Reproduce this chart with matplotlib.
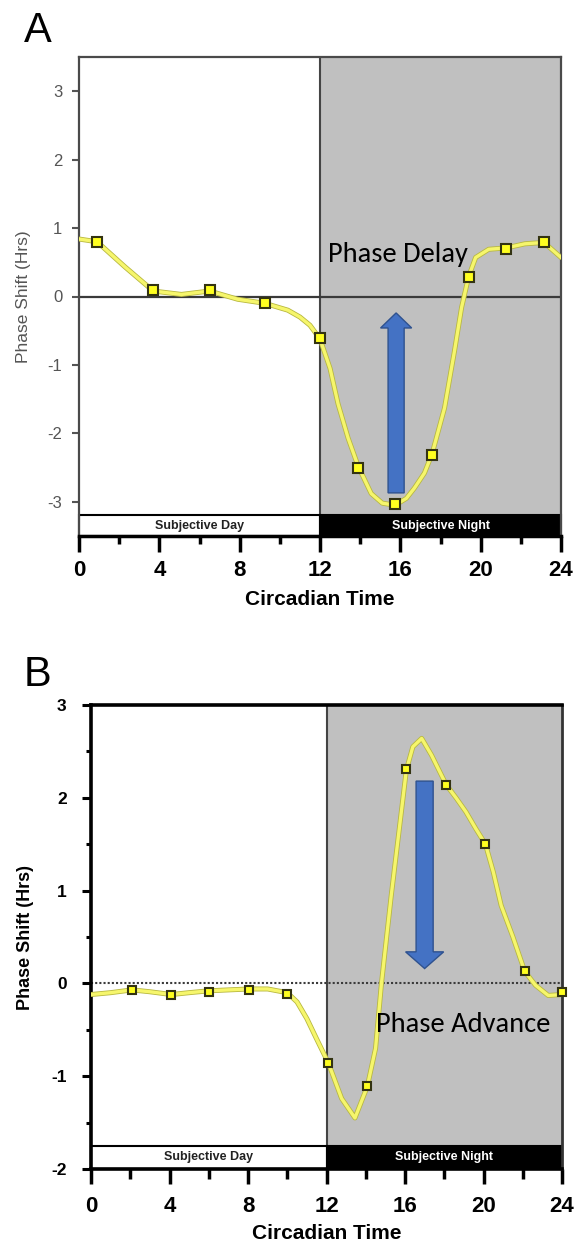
import matplotlib
matplotlib.use("Agg")
import matplotlib.pyplot as plt
from matplotlib import font_manager
from matplotlib.patches import FancyArrow
from matplotlib.ticker import MultipleLocator

plt.rcParams["axes.unicode_minus"] = False

# ---- panel A: phase delay PRC ----
a_pts_x = [0.9, 3.7, 6.5, 9.26, 12.0, 13.9, 15.74, 17.58, 19.4, 21.27, 23.15]
a_pts_y = [0.8, 0.1, 0.1, -0.1, -0.6, -2.51, -3.03, -2.31, 0.29, 0.7, 0.79]
a_fit_x = [0, 0.9, 2.3, 3.7, 5.1, 6.5, 7.9, 9.26, 10.4, 11.0, 11.5, 12.0, 12.5,
           12.9, 13.4, 13.9, 14.55, 15.1, 15.74, 16.3, 16.7, 17.2, 17.58, 18.2,
           18.7, 19.05, 19.4, 19.75, 20.4, 21.27, 22.2, 23.15, 24]
a_fit_y = [0.84, 0.8, 0.43, 0.08, 0.03, 0.08, -0.04, -0.1, -0.2, -0.3, -0.42,
           -0.62, -1.05, -1.57, -2.07, -2.48, -2.88, -3.02, -3.05, -2.95, -2.8,
           -2.58, -2.3, -1.63, -0.79, -0.16, 0.29, 0.57, 0.69, 0.71, 0.77, 0.79, 0.57]
a_arrow = (15.79, -2.87, -0.24)   # x, tail, tip

# ---- panel B: phase advance PRC ----
b_pts_x = [2.09, 4.1, 6.0, 8.07, 10.0, 12.1, 14.08, 16.07, 18.1, 20.1, 22.1, 24.0]
b_pts_y = [-0.07, -0.12, -0.09, -0.07, -0.11, -0.86, -1.11, 2.31, 2.14, 1.5, 0.13, -0.09]
b_fit_x = [0, 1, 2.09, 3, 4.1, 5, 6.0, 7, 8.07, 9, 10.0, 10.5, 11, 11.5, 12.1,
           12.77, 13.45, 14.08, 14.5, 14.8, 15.3, 15.7, 16.07, 16.4, 16.85, 17.35,
           18.1, 18.6, 19.1, 19.6, 20.1, 20.5, 20.9, 21.5, 22.1, 22.65, 23.3, 24]
b_fit_y = [-0.12, -0.1, -0.07, -0.09, -0.12, -0.1, -0.08, -0.07, -0.06, -0.06,
           -0.1, -0.2, -0.38, -0.6, -0.86, -1.24, -1.45, -1.11, -0.7, 0.0, 0.95,
           1.65, 2.3, 2.55, 2.64, 2.46, 2.14, 2.0, 1.85, 1.67, 1.5, 1.2, 0.84,
           0.5, 0.13, -0.02, -0.13, -0.12]
b_arrow = (17.0, 2.18, 0.16)

day_span = (0, 12)
night_span = (12, 24)
x_major = [0, 4, 8, 12, 16, 20, 24]


def pick(fams):
    for f in fams:
        try:
            font_manager.findfont(font_manager.FontProperties(family=f),
                                  fallback_to_default=False)
            return f
        except ValueError:
            continue
    return "DejaVu Sans"


NARROW = pick(["Liberation Sans Narrow", "Arial Narrow", "Liberation Sans"])
ARIAL = pick(["Liberation Sans", "Arial", "DejaVu Sans"])
CALIBRI = pick(["Carlito", "Open Sans", "Noto Sans"])

fig = plt.figure(figsize=(5.76, 12.44), dpi=100)
W, H = 576, 1244


def px_axes(l, r, t, b):
    return fig.add_axes([l / W, 1 - b / H, (r - l) / W, (b - t) / H])


def panel(ax, ylim, bar_top, fit_x, fit_y, pts_x, pts_y, msize, zero_style):
    ax.set_xlim(0, 24)
    ax.set_ylim(*ylim)
    # shaded subjective night
    ax.fill_between(night_span, bar_top, ylim[1], color="#c0c0c0", zorder=0, lw=0)
    # day / night bars
    ax.bar(day_span[0], bar_top - ylim[0], width=day_span[1] - day_span[0],
           bottom=ylim[0], align="edge", color="white", edgecolor="black",
           lw=1.5, zorder=2, clip_on=False)
    ax.bar(night_span[0], bar_top - ylim[0], width=night_span[1] - night_span[0],
           bottom=ylim[0], align="edge", color="black", edgecolor="black",
           lw=1.5, zorder=2, clip_on=False)
    mid = (ylim[0] + bar_top) / 2
    ax.text(6, mid, "Subjective Day", ha="center", va="center", fontsize=9,
            family=NARROW, fontweight="bold", color="#222", zorder=3)
    ax.text(18, mid, "Subjective Night", ha="center", va="center", fontsize=9,
            family=NARROW, fontweight="bold", color="white", zorder=3)
    ax.plot([12, 12], [bar_top, ylim[1]], color="#444444", lw=1.5, zorder=1)
    ax.axhline(0, color="#3a3a3a", zorder=1, **zero_style)
    ax.plot(fit_x, fit_y, color="#b8b840", lw=3.6, zorder=4, solid_capstyle="round")
    ax.plot(fit_x, fit_y, color="#f6f66c", lw=2.4, zorder=5, solid_capstyle="round")
    ax.plot(pts_x, pts_y, ls="none", marker="s", ms=msize, mfc="#ffff20",
            mec="#333311", mew=1.5, zorder=6, clip_on=False)
    ax.set_xticks(x_major)
    ax.xaxis.set_minor_locator(MultipleLocator(2))


def arrow(ax, spec, shaft_w, head_w, head_l):
    x, y0, y1 = spec
    ax.add_patch(FancyArrow(x, y0, 0, y1 - y0, width=shaft_w, head_width=head_w,
                            head_length=head_l, length_includes_head=True,
                            fc="#4472c4", ec="#2f528f", lw=1, zorder=8))


# ---------- A ----------
axA = px_axes(79, 561, 57, 536)
panel(axA, (-3.5, 3.5), -3.2, a_fit_x, a_fit_y, a_pts_x, a_pts_y, 7.0,
      dict(lw=1.6, ls="-"))
arrow(axA, a_arrow, 0.8, 1.55, 0.22)
axA.text(12.4, 0.51, "Phase Delay", family=CALIBRI, fontsize=20.5,
         va="baseline", ha="left", color="black", zorder=9)
axA.set_yticks([-3, -2, -1, 0, 1, 2, 3])
for s in ["top", "right", "left"]:
    axA.spines[s].set_color("#4a4a4a")
    axA.spines[s].set_linewidth(1.6)
axA.spines["bottom"].set_linewidth(2.5)
axA.tick_params(axis="y", length=5, width=1.5, color="#555555", pad=7,
                labelsize=12, labelcolor="#555555")
axA.tick_params(axis="x", which="major", length=11.5, width=2.5, pad=6,
                labelsize=16)
axA.tick_params(axis="x", which="minor", length=6, width=2.5)
for t in axA.get_yticklabels():
    t.set_family(ARIAL)
for t in axA.get_xticklabels():
    t.set_family(NARROW)
    t.set_fontweight("bold")
axA.set_ylabel("Phase Shift (Hrs)", family=ARIAL, fontsize=12.5, color="#555555")
axA.yaxis.set_label_coords(-0.116, 0.5)
axA.yaxis.label.set_verticalalignment("center")
axA.set_xlabel("Circadian Time", family=ARIAL, fontsize=15, fontweight="bold")
axA.xaxis.set_label_coords(0.5, -0.112)
fig.text(24 / W, 1 - 42 / H, "A", family=ARIAL, fontsize=30, va="baseline")

# ---------- B ----------
axB = px_axes(91, 562, 705, 1169)
panel(axB, (-2, 3), -1.75, b_fit_x, b_fit_y, b_pts_x, b_pts_y, 5.8,
      dict(lw=1.5, ls=(0, (1, 1))))
arrow(axB, b_arrow, 0.87, 1.94, 0.18)
axB.text(14.54, -0.52, "Phase Advance", family=CALIBRI, fontsize=20.5,
         va="baseline", ha="left", color="black", zorder=9)
axB.set_yticks([-2, -1, 0, 1, 2, 3])
axB.yaxis.set_minor_locator(MultipleLocator(0.5))
for s in ["top", "left", "bottom"]:
    axB.spines[s].set_color("black")
    axB.spines[s].set_linewidth(2.6)
axB.spines["right"].set_color("#333333")
axB.spines["right"].set_linewidth(2)
axB.tick_params(axis="y", which="major", length=6.5, width=2.2, pad=11,
                labelsize=12.5)
axB.tick_params(axis="y", which="minor", length=3.6, width=2.2)
axB.tick_params(axis="x", which="major", length=10.8, width=2.5, pad=9,
                labelsize=16)
axB.tick_params(axis="x", which="minor", length=7, width=2.5)
for t in axB.get_yticklabels() + axB.get_xticklabels():
    t.set_family(NARROW)
    t.set_fontweight("bold")
axB.set_ylabel("Phase Shift (Hrs)", family=ARIAL, fontsize=13, fontweight="bold")
axB.yaxis.set_label_coords(-0.14, 0.5)
axB.yaxis.label.set_verticalalignment("center")
axB.set_xlabel("Circadian Time", family=ARIAL, fontsize=15, fontweight="bold")
axB.xaxis.set_label_coords(0.5, -0.118)
fig.text(24 / W, 1 - 686 / H, "B", family=ARIAL, fontsize=30, va="baseline")

fig.savefig("out.png", dpi=100)
